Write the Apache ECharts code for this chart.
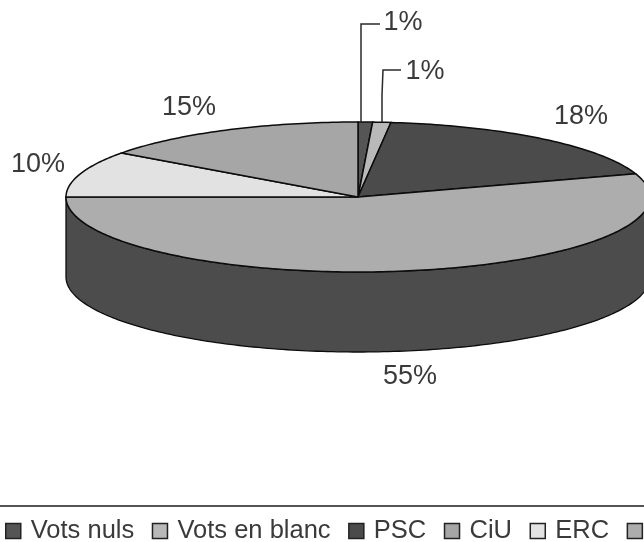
<!DOCTYPE html>
<html>
<head>
<meta charset="utf-8">
<style>html,body{margin:0;padding:0;background:#fff;overflow:hidden}#c{width:644px;height:542px;filter:blur(0.45px)}</style>
<script src="https://cdn.jsdelivr.net/npm/echarts@6/dist/echarts.min.js"></script>
</head>
<body>
<div id="c"></div>
<script>
// slices run clockwise from 12 o'clock, last legend entry is cut off in the source
const names = ['Vots nuls', 'Vots en blanc', 'PSC', ' ', 'ERC', 'CiU']
const values = [0.8, 1.0, 18.2, 55, 10, 15]
const colors = ['#555555', '#b9b9b9', '#4b4b4b', '#adadad', '#e2e2e2', '#a6a6a6']
const legendOrder = ['Vots nuls', 'Vots en blanc', 'PSC', 'CiU', 'ERC', ' ']
const labelPos = [[403, 23], [425, 72], [581, 117], [410, 377], [38, 165], [189, 108]]
const leaders = [[[361, 122], [361, 24], [380, 24]], [[382, 122], [382, 95], [383, 70], [401, 70]]]

const cx = 358, cy = 197, rx = 292, ry = 75, depth = 80
const sideColor = '#4c4c4c', edge = '#0c0c0c', ink = '#3a3a3a'
const total = values.reduce((a, b) => a + b, 0)

const pt = (deg, dy) => {
  const t = deg * Math.PI / 180
  return [cx + rx * Math.sin(t), cy + dy + ry * -Math.cos(t)]
}
const arc = (a0, a1, dy) => {
  const pts = []
  const n = Math.max(2, Math.ceil(Math.abs(a1 - a0)))
  for (let i = 0; i <= n; i++) pts.push(pt(a0 + (a1 - a0) * i / n, dy))
  return pts
}

const renderSlice = (i, api) => {
  const before = values.slice(0, i).reduce((a, b) => a + b, 0)
  const a0 = before / total * 360, a1 = (before + values[i]) / total * 360
  const children = []
  // wall only exists on the front half (90..270 deg)
  const f0 = Math.max(a0, 90), f1 = Math.min(a1, 270)
  if (f1 > f0) {
    children.push({
      type: 'polygon',
      shape: { points: arc(f0, f1, 0).concat(arc(f1, f0, depth)) },
      style: { fill: sideColor, stroke: edge, lineWidth: 1.3 }
    })
  }
  children.push({
    type: 'polygon',
    shape: { points: [[cx, cy]].concat(arc(a0, a1, 0)) },
    style: { fill: api.visual('color'), stroke: edge, lineWidth: 1.5 }
  })
  return { type: 'group', children }
}

const labelItems = () => ({
  type: 'group',
  children: values.map((v, i) => ({
    type: 'text',
    x: labelPos[i][0], y: labelPos[i][1],
    style: { text: Math.round(v) + '%', font: '27px "Liberation Sans"', fill: ink, align: 'center', verticalAlign: 'middle' }
  })).concat(leaders.map(points => ({
    type: 'polyline',
    shape: { points },
    style: { fill: null, stroke: '#2a2a2a', lineWidth: 1.5 }
  })))
})

const chart = echarts.init(document.getElementById('c'))
chart.setOption({
  animation: false,
  backgroundColor: '#fff',
  legend: {
    left: 0, top: 513, width: 720, padding: [5, 0, 5, 5],
    data: legendOrder,
    icon: 'rect', itemWidth: 15, itemHeight: 15, itemGap: 17.5,
    itemStyle: { borderColor: '#222', borderWidth: 1.5 },
    textStyle: { fontFamily: 'Liberation Sans', fontSize: 25.5, color: ink, padding: [0, 0, 0, 5] },
    selectedMode: false
  },
  graphic: [{
    type: 'rect',
    shape: { x: 0, y: 505, width: 644, height: 2 },
    style: { fill: '#555' }
  }],
  series: names.map((name, i) => ({
    type: 'custom',
    name,
    coordinateSystem: 'none',
    itemStyle: { color: colors[i] },
    data: [[values[i]]],
    silent: true,
    renderItem: (params, api) => renderSlice(i, api)
  })).concat([{
    type: 'custom',
    name: 'labels',
    coordinateSystem: 'none',
    data: [[0]],
    silent: true,
    z: 5,
    renderItem: labelItems
  }])
})
</script>
</body>
</html>
